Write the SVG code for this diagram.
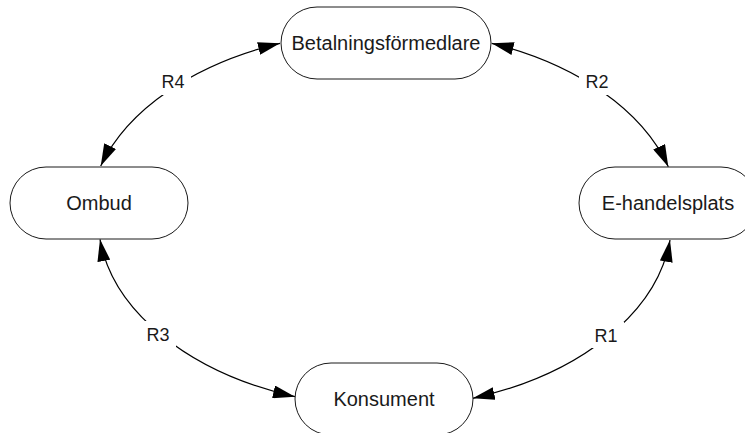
<svg xmlns="http://www.w3.org/2000/svg" width="745" height="433" viewBox="0 0 745 433">
<defs>
<marker id="arr" viewBox="0 0 22 13" refX="22" refY="6.5" markerWidth="22" markerHeight="13" markerUnits="userSpaceOnUse" orient="auto-start-reverse">
<path d="M0,0 L22,6.5 L0,13 Z" fill="#000"/>
</marker>
<style>
.node rect{fill:#fff;stroke:#1a1a1a;stroke-width:1}
.node text{font-family:"Liberation Sans",Arial,sans-serif;font-size:20px;fill:#1a1a1a;text-anchor:middle}
.conn path{fill:none;stroke:#000;stroke-width:1.2;marker-start:url(#arr);marker-end:url(#arr)}
.lbl rect{fill:#fff}
.lbl text{font-family:"Liberation Sans",Arial,sans-serif;font-size:18px;fill:#1a1a1a;text-anchor:middle}
</style>
</defs>
<rect width="745" height="433" fill="#fff"/>
<g id="connectors" class="conn">
<path d="M100.7,166 A296,190 0 0 1 280,43.3"/>
<path d="M491.7,43.3 A296,190 0 0 1 668.3,166.7"/>
<path d="M670,240 A296,190 0 0 1 472.7,398.3"/>
<path d="M295,396.7 A296,190 0 0 1 100,239.3"/>
</g>
<g id="labels" class="lbl">
<g id="label-R4"><rect x="155" y="69" width="36" height="26"/><text x="173" y="88">R4</text></g>
<g id="label-R2"><rect x="579" y="69" width="36" height="26"/><text x="597" y="88">R2</text></g>
<g id="label-R3"><rect x="140" y="321" width="36" height="26"/><text x="158" y="341">R3</text></g>
<g id="label-R1"><rect x="588" y="322" width="36" height="26"/><text x="606" y="342">R1</text></g>
</g>
<g id="node-betalningsformedlare" class="node"><rect x="281" y="7" width="210" height="72" rx="36" ry="36"/><text x="386" y="50">Betalningsförmedlare</text></g>
<g id="node-ombud" class="node"><rect x="10" y="167" width="178" height="72" rx="36" ry="36"/><text x="99" y="210">Ombud</text></g>
<g id="node-ehandelsplats" class="node"><rect x="579" y="167" width="178" height="72" rx="36" ry="36"/><text x="668" y="210">E-handelsplats</text></g>
<g id="node-konsument" class="node"><rect x="295" y="363" width="178" height="72" rx="36" ry="36"/><text x="384" y="406">Konsument</text></g>
</svg>
